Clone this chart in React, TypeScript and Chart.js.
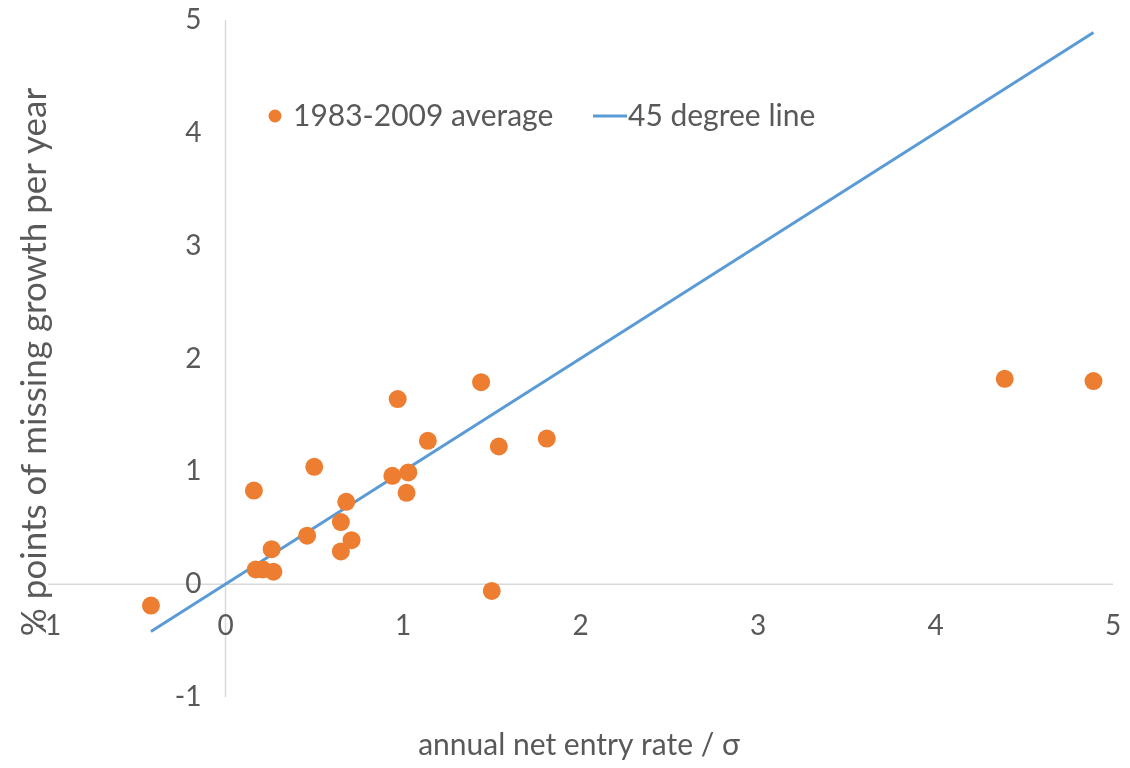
import { useEffect, useRef } from "react";
import { Chart, registerables } from "chart.js";

Chart.register(...registerables);

// ---- data ----
const xTickValues = [-1, 0, 1, 2, 3, 4, 5];
const yTickValues = [-1, 0, 1, 2, 3, 4, 5];
const entryRate = [
  -0.42, 0.16, 0.17, 0.21, 0.26, 0.27, 0.46, 0.5, 0.65, 0.65, 0.68, 0.71,
  0.94, 0.97, 1.02, 1.03, 1.14, 1.44, 1.5, 1.54, 1.81, 4.39, 4.89,
];
const missingGrowth = [
  -0.19, 0.83, 0.13, 0.13, 0.31, 0.11, 0.43, 1.04, 0.29, 0.55, 0.73, 0.39,
  0.96, 1.64, 0.81, 0.99, 1.27, 1.79, -0.06, 1.22, 1.29, 1.82, 1.8,
];
const lineX = [-0.42, 4.89];
const lineY = [-0.42, 4.89];
const seriesNames = ["1983-2009 average", "45 degree line"];
const xTitle = "annual net entry rate / σ";
const yTitle = "% points of missing growth per year";

const ORANGE = "#ED7D31";
const BLUE = "#5B9BD5";
const TEXT = "#595959";
const AXIS = "#D9D9D9";
const FONT = "Lato, 'Open Sans', sans-serif";

const decorPlugin = {
  id: "decor",
  beforeDatasetsDraw(chart: any) {
    const { ctx } = chart;
    const xs = chart.scales.x;
    const ys = chart.scales.y;
    const x0 = xs.getPixelForValue(0);
    const y0 = ys.getPixelForValue(0);
    ctx.save();
    ctx.strokeStyle = AXIS;
    ctx.lineWidth = 1.5;
    ctx.beginPath();
    ctx.moveTo(xs.getPixelForValue(xs.min), y0);
    ctx.lineTo(xs.getPixelForValue(xs.max), y0);
    ctx.moveTo(x0, ys.getPixelForValue(ys.max));
    ctx.lineTo(x0, ys.getPixelForValue(ys.min));
    ctx.stroke();

    ctx.fillStyle = TEXT;
    ctx.font = `28px ${FONT}`;
    ctx.textBaseline = "middle";
    ctx.textAlign = "center";
    xTickValues.forEach((v) => {
      ctx.fillText(String(v), xs.getPixelForValue(v), y0 + 42);
    });
    ctx.textAlign = "right";
    yTickValues.forEach((v) => {
      ctx.fillText(String(v), x0 - 24, ys.getPixelForValue(v));
    });
    ctx.restore();
  },
  afterDraw(chart: any) {
    const { ctx } = chart;
    ctx.save();
    ctx.fillStyle = TEXT;
    ctx.font = `30px ${FONT}`;
    ctx.textBaseline = "middle";
    // legend
    const ly = 116;
    ctx.beginPath();
    ctx.fillStyle = ORANGE;
    ctx.arc(275, ly, 6.5, 0, Math.PI * 2);
    ctx.fill();
    ctx.fillStyle = TEXT;
    ctx.textAlign = "left";
    ctx.fillText(seriesNames[0], 293, ly);
    ctx.strokeStyle = BLUE;
    ctx.lineWidth = 3;
    ctx.beginPath();
    ctx.moveTo(593, ly);
    ctx.lineTo(627, ly);
    ctx.stroke();
    ctx.fillText(seriesNames[1], 628, ly);
    // titles
    ctx.textAlign = "center";
    ctx.fillText(xTitle, 579, 745);
    ctx.font = `35px ${FONT}`;
    ctx.translate(35, 362);
    ctx.rotate(-Math.PI / 2);
    ctx.fillText(yTitle, 0, 0);
    ctx.restore();
  },
};

export default function App() {
  const ref = useRef<HTMLCanvasElement | null>(null);
  useEffect(() => {
    if (!ref.current) return;
    const chart = new Chart(ref.current, {
      type: "scatter",
      data: {
        datasets: [
          {
            label: seriesNames[0],
            data: entryRate.map((x, i) => ({ x, y: missingGrowth[i] })),
            backgroundColor: ORANGE,
            borderColor: ORANGE,
            pointRadius: 9,
            pointHoverRadius: 9,
            borderWidth: 0,
            order: 1,
          },
          {
            type: "line",
            label: seriesNames[1],
            data: lineX.map((x, i) => ({ x, y: lineY[i] })),
            borderColor: BLUE,
            borderWidth: 3,
            pointRadius: 0,
            fill: false,
            order: 2,
          } as any,
        ],
      },
      options: {
        animation: false,
        responsive: false,
        maintainAspectRatio: false,
        layout: { padding: { left: 48, right: 17, top: 20, bottom: 71 } },
        scales: {
          x: { type: "linear", min: -1, max: 5, display: false },
          y: { type: "linear", min: -1, max: 5, display: false },
        },
        plugins: {
          legend: { display: false },
          tooltip: { enabled: false },
        },
        elements: { point: { hitRadius: 0 } },
      },
      plugins: [decorPlugin],
    });
    return () => chart.destroy();
  }, []);
  return (
    <div style={{ position: "fixed", left: 0, top: 0, width: 1130, height: 768, background: "#fff" }}>
      <canvas ref={ref} width={1130} height={768} style={{ display: "block" }} />
    </div>
  );
}
